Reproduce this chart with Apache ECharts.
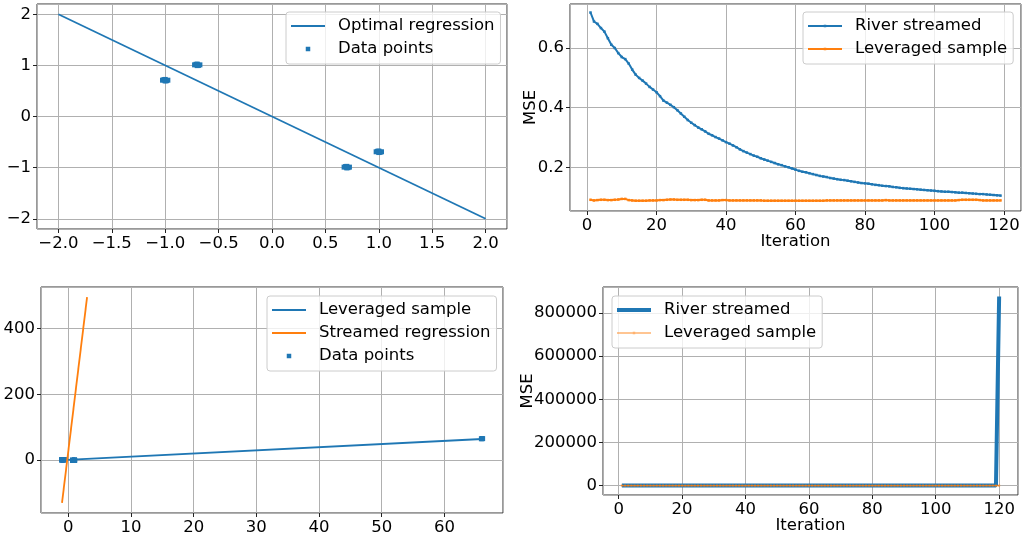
<!DOCTYPE html>
<html>
<head>
<meta charset="utf-8">
<style>
  html, body { margin: 0; padding: 0; background: #fff; }
  #chart { width: 1023px; height: 536px; }
</style>
<script src="https://cdn.jsdelivr.net/npm/echarts@6/dist/echarts.min.js"></script>
</head>
<body>
<div id="chart"></div>
<script>
// sampled data points (four small clusters)
const pointsX = [-1.025, -1.012, -1.0, -0.988, -0.975, -1.0, -1.0,
  -0.725, -0.712, -0.7, -0.688, -0.675, -0.7, -0.7,
  0.675, 0.688, 0.7, 0.712, 0.725, 0.7, 0.7,
  0.975, 0.988, 1.0, 1.012, 1.025, 1.0, 1.0];
const pointsY = [0.71, 0.72, 0.71, 0.70, 0.71, 0.725, 0.695,
  1.01, 1.02, 1.01, 1.00, 1.01, 1.025, 0.995,
  -0.99, -0.98, -0.99, -1.00, -0.99, -0.975, -1.005,
  -0.69, -0.68, -0.69, -0.70, -0.69, -0.675, -0.705];
// leveraged outlier (bottom-left panel)
const outlierX = [65.9, 66.0, 66.1];
const outlierY = [64.5, 65.5, 65.0];

// regression lines (end points)
const optimalX = [-2, 2];
const optimalY = [2, -2];
const leveragedFitX = [-1, 66];
const leveragedFitY = [0, 64];
const streamedFitX = [-1, 3];
const streamedFitY = [-130, 495];

// MSE per iteration (1..119)
const riverMse = [
  0.718, 0.688, 0.680, 0.666, 0.654, 0.632, 0.610, 0.599, 0.582, 0.569,
  0.562, 0.547, 0.527, 0.510, 0.499, 0.490, 0.480, 0.469, 0.460, 0.451,
  0.438, 0.423, 0.416, 0.409, 0.401, 0.391, 0.380, 0.369, 0.358, 0.349,
  0.341, 0.333, 0.327, 0.320, 0.312, 0.307, 0.301, 0.296, 0.290, 0.284,
  0.279, 0.273, 0.267, 0.260, 0.254, 0.249, 0.244, 0.239, 0.235, 0.230,
  0.226, 0.222, 0.218, 0.214, 0.210, 0.207, 0.203, 0.200, 0.196, 0.192,
  0.188, 0.185, 0.183, 0.180, 0.177, 0.174, 0.171, 0.169, 0.167, 0.164,
  0.162, 0.160, 0.158, 0.157, 0.155, 0.153, 0.151, 0.149, 0.147, 0.146,
  0.145, 0.143, 0.141, 0.140, 0.138, 0.137, 0.136, 0.134, 0.133, 0.131,
  0.130, 0.129, 0.128, 0.127, 0.126, 0.125, 0.124, 0.123, 0.122, 0.121,
  0.120, 0.119, 0.118, 0.118, 0.117, 0.116, 0.115, 0.115, 0.114, 0.113,
  0.112, 0.111, 0.110, 0.110, 0.109, 0.108, 0.107, 0.106, 0.105
];
const leveragedMse = [
  0.091, 0.089, 0.090, 0.091, 0.091, 0.090, 0.090, 0.091, 0.092, 0.094,
  0.094, 0.090, 0.089, 0.088, 0.088, 0.088, 0.088, 0.089, 0.089, 0.089,
  0.090, 0.090, 0.091, 0.092, 0.092, 0.091, 0.091, 0.091, 0.091, 0.090,
  0.090, 0.090, 0.091, 0.091, 0.089, 0.089, 0.089, 0.089, 0.090, 0.090,
  0.089, 0.089, 0.089, 0.089, 0.089, 0.089, 0.089, 0.089, 0.089, 0.089,
  0.088, 0.088, 0.088, 0.088, 0.088, 0.088, 0.088, 0.088, 0.088, 0.088,
  0.088, 0.088, 0.088, 0.088, 0.088, 0.088, 0.088, 0.088, 0.089, 0.089,
  0.089, 0.089, 0.089, 0.089, 0.089, 0.089, 0.089, 0.089, 0.089, 0.089,
  0.089, 0.089, 0.089, 0.089, 0.089, 0.090, 0.089, 0.089, 0.089, 0.089,
  0.089, 0.089, 0.089, 0.089, 0.089, 0.089, 0.089, 0.089, 0.089, 0.089,
  0.089, 0.089, 0.089, 0.089, 0.089, 0.089, 0.090, 0.091, 0.091, 0.091,
  0.091, 0.091, 0.090, 0.089, 0.089, 0.089, 0.089, 0.089, 0.089
];
// second run: last iteration (120) of the streamed model blows up
const riverLast = 877000;
const leveragedLast = 0.089;

const BLUE = '#1f77b4';
const ORANGE = '#ff7f0e';
const FONT = 'DejaVu Sans';
const FS = 16.5;

const pairs = (xs, ys) => xs.map((x, i) => [x, ys[i]]);
const iterPairs = ys => ys.map((y, i) => [i + 1, y]);
const minus = v => String(v).replace('-', '\u2212');

function valueAxis(gridIndex, min, max, step, fmt, extra) {
  return Object.assign({
    type: 'value', gridIndex, min, max, minInterval: step, maxInterval: step,
    axisLine: { show: false, onZero: false },
    axisTick: { show: true, inside: false, length: 4, lineStyle: { color: '#222', width: 1 } },
    splitLine: { show: true, lineStyle: { color: '#b0b0b0', width: 1 } },
    axisLabel: {
      show: true, showMinLabel: false, showMaxLabel: false, margin: 6,
      color: '#000', fontSize: FS, fontFamily: FONT, formatter: fmt
    },
    nameMoveOverlap: false,
    nameTextStyle: { color: '#000', fontSize: FS, fontFamily: FONT }
  }, extra || {});
}

function grid(left, top, width, height) {
  return { left, top, width, height, show: true, borderColor: '#333', borderWidth: 1,
    backgroundColor: 'transparent', containLabel: false, outerBoundsMode: 'none' };
}

// legend icons, drawn inside a 34x14 box
const BOX = 'path://M0,0M34,14';
const lineIcon = w => BOX + 'M0,' + (7 - w / 2) + 'h34v' + w + 'h-34z';
const sq = s => 'M' + (17 - s / 2) + ',' + (7 - s / 2) + 'h' + s + 'v' + s + 'h-' + s + 'z';
const lineMarkIcon = (w, s) => lineIcon(w) + sq(s);
const pointIcon = BOX + sq(4.5);

function legend(left, top, items) {
  return {
    left, top, orient: 'vertical', padding: [5, 6, 6, 5], itemGap: 5,
    itemWidth: 34, itemHeight: 14, selectedMode: false,
    backgroundColor: 'rgba(255,255,255,0.8)', borderColor: '#cccccc', borderWidth: 1, borderRadius: 3,
    textStyle: { fontSize: FS, fontFamily: FONT, color: '#000', lineHeight: 18, padding: [0, 0, 0, 8] },
    itemStyle: { borderWidth: 0 },
    formatter: n => n.split('|')[1],
    data: items
  };
}

const option = {
  animation: false,
  backgroundColor: '#fff',
  grid: [
    grid(37, 4, 470, 225),
    grid(570, 4, 451, 207),
    grid(41, 287, 462, 226),
    grid(603, 287, 415, 208)
  ],
  xAxis: [
    valueAxis(0, -2.2, 2.2, 0.5, v => minus(v.toFixed(1))),
    valueAxis(1, -4.9, 124.9, 20, v => String(v), { name: 'Iteration', nameLocation: 'middle', nameGap: 22 }),
    valueAxis(2, -4.35, 69.35, 10, v => minus(v)),
    valueAxis(3, -4.95, 125.95, 20, v => String(v), { name: 'Iteration', nameLocation: 'middle', nameGap: 22 })
  ],
  yAxis: [
    valueAxis(0, -2.2, 2.2, 1, v => minus(v)),
    valueAxis(1, 0.0535, 0.7465, 0.2, v => v.toFixed(1), { name: 'MSE', nameLocation: 'middle', nameRotate: 90, nameGap: 31 }),
    valueAxis(2, -161, 526, 200, v => minus(v)),
    valueAxis(3, -43850, 920850, 200000, v => String(v), { name: 'MSE', nameLocation: 'middle', nameRotate: 90, nameGap: 67 })
  ],
  legend: [
    legend(286, 12, [
      { name: 'a|Optimal regression', icon: lineIcon(1.8) },
      { name: 'a|Data points', icon: pointIcon }
    ]),
    legend(803, 12, [
      { name: 'b|River streamed', icon: lineMarkIcon(2, 2.5) },
      { name: 'b|Leveraged sample', icon: lineMarkIcon(2, 2.5) }
    ]),
    legend(267, 296, [
      { name: 'c|Leveraged sample', icon: lineIcon(1.8) },
      { name: 'c|Streamed regression', icon: lineIcon(1.8) },
      { name: 'c|Data points', icon: pointIcon }
    ]),
    legend(612, 296, [
      { name: 'd|River streamed', icon: lineIcon(4) },
      { name: 'd|Leveraged sample', icon: lineMarkIcon(1.3, 2.5), itemStyle: { opacity: 0.6 } }
    ])
  ],
  series: [
    { name: 'a|Optimal regression', type: 'line', xAxisIndex: 0, yAxisIndex: 0, symbol: 'none',
      color: BLUE, lineStyle: { width: 1.8 }, data: pairs(optimalX, optimalY) },
    { name: 'a|Data points', type: 'scatter', xAxisIndex: 0, yAxisIndex: 0, symbol: 'rect', symbolSize: 5,
      color: BLUE, itemStyle: { opacity: 1 }, data: pairs(pointsX, pointsY) },

    { name: 'b|River streamed', type: 'line', xAxisIndex: 1, yAxisIndex: 1, symbol: 'rect', symbolSize: 2.5,
      showAllSymbol: true, color: BLUE, lineStyle: { width: 2 }, data: iterPairs(riverMse) },
    { name: 'b|Leveraged sample', type: 'line', xAxisIndex: 1, yAxisIndex: 1, symbol: 'rect', symbolSize: 2.5,
      showAllSymbol: true, color: ORANGE, lineStyle: { width: 2 }, data: iterPairs(leveragedMse) },

    { name: 'c|Leveraged sample', type: 'line', xAxisIndex: 2, yAxisIndex: 2, symbol: 'none',
      color: BLUE, lineStyle: { width: 1.8 }, data: pairs(leveragedFitX, leveragedFitY) },
    { name: 'c|Streamed regression', type: 'line', xAxisIndex: 2, yAxisIndex: 2, symbol: 'none',
      color: ORANGE, lineStyle: { width: 1.8 }, data: pairs(streamedFitX, streamedFitY) },
    { name: 'c|Data points', type: 'scatter', xAxisIndex: 2, yAxisIndex: 2, symbol: 'rect', symbolSize: 5,
      color: BLUE, itemStyle: { opacity: 1 },
      data: pairs(pointsX, pointsY).concat(pairs(outlierX, outlierY)) },

    { name: 'd|River streamed', type: 'line', xAxisIndex: 3, yAxisIndex: 3, symbol: 'none',
      color: BLUE, lineStyle: { width: 4 }, data: iterPairs(riverMse.concat([riverLast])) },
    { name: 'd|Leveraged sample', type: 'line', xAxisIndex: 3, yAxisIndex: 3, symbol: 'rect', symbolSize: 2,
      showAllSymbol: true, color: ORANGE, lineStyle: { width: 1.2, opacity: 0.7 }, itemStyle: { opacity: 0.7 },
      data: iterPairs(leveragedMse.concat([leveragedLast])) }
  ]
};

const chart = echarts.init(document.getElementById('chart'));
chart.setOption(option);
</script>
</body>
</html>
